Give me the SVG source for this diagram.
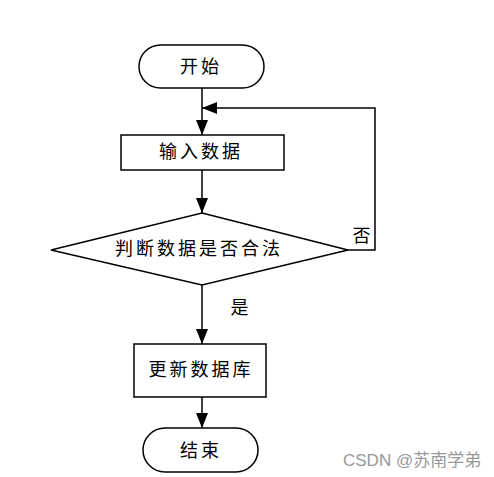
<svg xmlns="http://www.w3.org/2000/svg" width="494" height="477" viewBox="0 0 494 477">
<style>
.s{fill:#fff;stroke:#000;stroke-width:1.5}
.t{font-family:"Noto Sans CJK SC","Liberation Sans",sans-serif;font-size:18px;fill:#000;text-anchor:middle;dominant-baseline:central;letter-spacing:3px}
.c{fill:none;stroke:#000;stroke-width:1.5}
.w{font-family:"Liberation Sans","Noto Sans CJK SC",sans-serif;font-size:17px;fill:#999}
</style>
<defs>
<marker id="a" markerWidth="16" markerHeight="12" refX="15" refY="6" orient="auto" markerUnits="userSpaceOnUse">
<path d="M0,0 L15,6 L0,12 Z" fill="#000"/>
</marker>
</defs>
<rect width="494" height="477" fill="#fff"/>
<g id="connectors">
<path class="c" d="M202,88 V135" marker-end="url(#a)"/>
<path class="c" d="M202,170 V213" marker-end="url(#a)"/>
<path class="c" d="M202,285 V344" marker-end="url(#a)"/>
<path class="c" d="M202,397 V428" marker-end="url(#a)"/>
<path class="c" d="M348,250 H375 V108 H202" marker-end="url(#a)"/>
<text class="t" x="363" y="234">否</text>
<text class="t" x="241" y="306">是</text>
</g>
<g id="start">
<rect class="s" x="139" y="45" width="125" height="43" rx="21.5"/>
<text class="t" x="201" y="65">开始</text>
</g>
<g id="input">
<rect class="s" x="121" y="135" width="163" height="35"/>
<text class="t" x="201" y="150">输入数据</text>
</g>
<g id="check">
<polygon class="s" points="202,213 348,250 202,285 51,250"/>
<text class="t" x="199" y="247">判断数据是否合法</text>
</g>
<g id="update">
<rect class="s" x="134" y="344" width="132" height="53"/>
<text class="t" x="201" y="368">更新数据库</text>
</g>
<g id="end">
<rect class="s" x="143" y="428" width="115" height="44" rx="22"/>
<text class="t" x="201" y="449">结束</text>
</g>
<text class="w" x="343" y="466">CSDN @苏南学弟</text>
</svg>
